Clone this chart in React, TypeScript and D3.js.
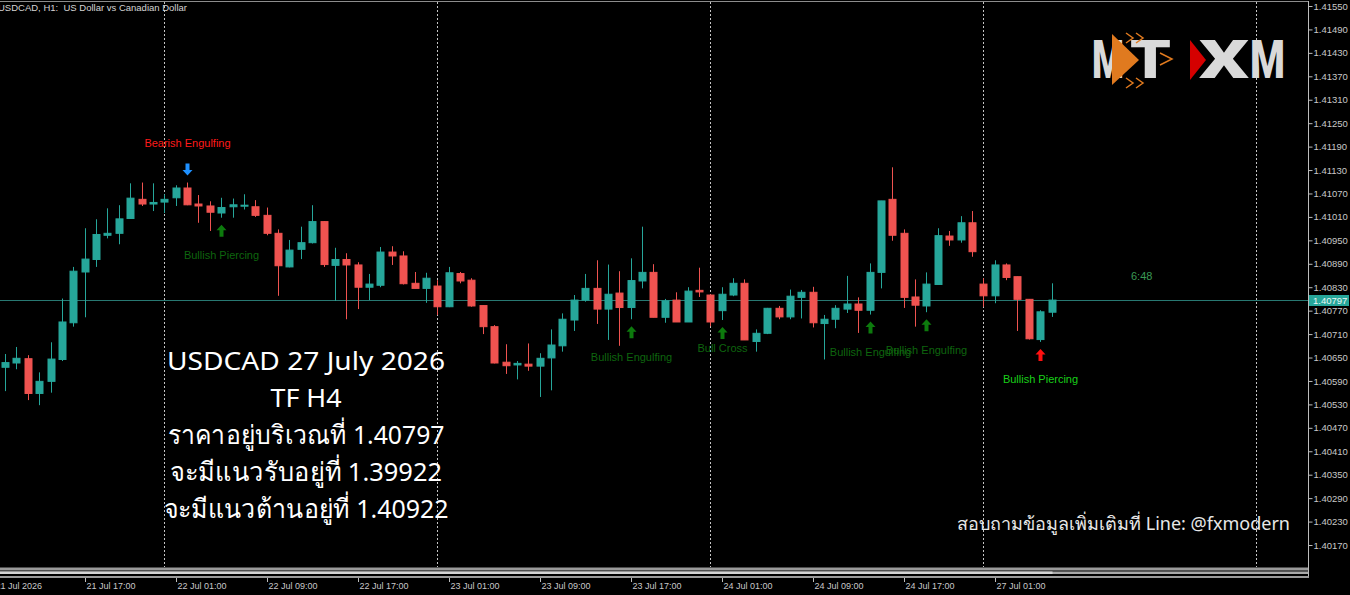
import React, { useEffect, useRef } from "react";
import * as d3 from "d3";

// trading hours shown on the chart: [day, first hour, last hour]
const sessions: [string, number, number][] = [
  ["21 Jul", 9, 23],
  ["22 Jul", 0, 23],
  ["23 Jul", 0, 23],
  ["24 Jul", 0, 23],
  ["27 Jul", 0, 23],
  ["28 Jul", 0, 0],
];

// H1 candles from 21 Jul 10:00 to 27 Jul 06:00
const opens = [
  1.40625, 1.40636, 1.40647, 1.40558, 1.40589, 1.40645, 1.40739, 1.40869, 1.40901, 1.40963,
  1.40968, 1.41006, 1.41055, 1.41043, 1.41048, 1.41059, 1.41084, 1.41043, 1.41038, 1.4102,
  1.41036, 1.41038, 1.41036, 1.41014, 1.40968, 1.40882, 1.40927, 1.40944, 1.40998, 1.40886,
  1.40901, 1.40887, 1.4083, 1.40835, 1.4092, 1.4091, 1.4084, 1.40827, 1.40833, 1.4078,
  1.40865, 1.40848, 1.40783, 1.40729, 1.40638, 1.40631, 1.40633, 1.40628, 1.40649, 1.4068,
  1.40746, 1.40797, 1.40827, 1.40774, 1.40815, 1.40778, 1.40846, 1.40868, 1.40753, 1.40797,
  1.40741, 1.40822, 1.4081, 1.4077, 1.4081, 1.4084, 1.40691, 1.40712, 1.40776, 1.40754,
  1.40804, 1.40817, 1.40737, 1.40748, 1.40774, 1.40787, 1.40771, 1.40868, 1.41055, 1.40968,
  1.40805, 1.40782, 1.40837, 1.40961, 1.40951, 1.40995, 1.40838, 1.40808, 1.40887, 1.40857,
  1.40799, 1.40696, 1.40766,
];
const highs = [
  1.40659, 1.40677, 1.40656, 1.40612, 1.40689, 1.40801, 1.40882, 1.40981, 1.41004, 1.41032,
  1.4104, 1.41096, 1.41098, 1.41096, 1.41068, 1.41091, 1.41098, 1.41066, 1.4105, 1.41059,
  1.41057, 1.41068, 1.41053, 1.41034, 1.40978, 1.40951, 1.40985, 1.4104, 1.40999, 1.40931,
  1.40917, 1.40894, 1.40864, 1.40933, 1.40935, 1.40922, 1.40869, 1.40867, 1.40848, 1.40882,
  1.40869, 1.40853, 1.40783, 1.40733, 1.40684, 1.40641, 1.40686, 1.40661, 1.40722, 1.40763,
  1.4081, 1.40864, 1.40899, 1.40888, 1.40871, 1.40904, 1.40985, 1.40889, 1.408, 1.40817,
  1.4083, 1.4088, 1.40812, 1.4083, 1.40853, 1.4085, 1.40722, 1.40777, 1.40782, 1.40824,
  1.40823, 1.40831, 1.40759, 1.40784, 1.40859, 1.40804, 1.40891, 1.41051, 1.41137, 1.40978,
  1.4085, 1.40868, 1.40981, 1.40974, 1.41012, 1.41025, 1.40853, 1.40899, 1.40891, 1.40857,
  1.40799, 1.40771, 1.4084,
];
const lows = [
  1.40564, 1.4062, 1.40541, 1.40528, 1.4056, 1.40641, 1.40729, 1.40753, 1.40882, 1.40955,
  1.4094, 1.41005, 1.41038, 1.41025, 1.4102, 1.41038, 1.4104, 1.40995, 1.40974, 1.41008,
  1.41008, 1.41029, 1.4101, 1.40963, 1.40808, 1.40881, 1.40902, 1.40942, 1.40882, 1.40795,
  1.40748, 1.40774, 1.40797, 1.4083, 1.40887, 1.40837, 1.40827, 1.4079, 1.40759, 1.40779,
  1.4084, 1.4078, 1.4071, 1.40635, 1.40608, 1.40594, 1.40616, 1.40549, 1.40566, 1.40665,
  1.40718, 1.40793, 1.40736, 1.40695, 1.4068, 1.40748, 1.40827, 1.40753, 1.40739, 1.40741,
  1.40741, 1.40805, 1.4073, 1.40746, 1.40807, 1.40695, 1.40665, 1.4071, 1.40748, 1.40748,
  1.4075, 1.40727, 1.40645, 1.40725, 1.40764, 1.40713, 1.4076, 1.40827, 1.40949, 1.40777,
  1.40729, 1.40766, 1.40837, 1.40936, 1.40944, 1.40908, 1.4078, 1.40789, 1.40848, 1.40718,
  1.40696, 1.4069, 1.40754,
];
const closes = [
  1.40637, 1.40648, 1.40558, 1.40589, 1.40646, 1.40741, 1.40871, 1.40902, 1.40965, 1.40968,
  1.41005, 1.41058, 1.41043, 1.41047, 1.41055, 1.41084, 1.41041, 1.41038, 1.41022, 1.41034,
  1.41041, 1.4104, 1.41014, 1.40968, 1.40885, 1.40925, 1.40944, 1.40998, 1.40888, 1.40901,
  1.40887, 1.4083, 1.40838, 1.4092, 1.4091, 1.40839, 1.40827, 1.40853, 1.4078, 1.40867,
  1.40846, 1.40782, 1.40729, 1.40636, 1.40629, 1.40635, 1.40628, 1.40648, 1.40682, 1.40748,
  1.40797, 1.40827, 1.40774, 1.40812, 1.40778, 1.40847, 1.40868, 1.40753, 1.40795, 1.40741,
  1.4082, 1.40818, 1.40741, 1.40812, 1.4084, 1.40695, 1.40712, 1.40776, 1.40754, 1.40807,
  1.40817, 1.40739, 1.40748, 1.40776, 1.40787, 1.40771, 1.40868, 1.41051, 1.40963, 1.40804,
  1.40784, 1.40838, 1.40962, 1.40951, 1.40995, 1.40921, 1.40808, 1.40887, 1.40855, 1.40799,
  1.40698, 1.40767, 1.40797,
];

const priceTicks = [
  1.4155, 1.4149, 1.4143, 1.4137, 1.4131, 1.4125, 1.4119, 1.4113, 1.4107, 1.4101, 1.4095, 1.4089,
  1.4083, 1.4077, 1.4071, 1.4065, 1.4059, 1.4053, 1.4047, 1.4041, 1.4035, 1.4029, 1.4023, 1.4017,
];
const timeTickAt = [
  "21 Jul 09:00", "21 Jul 17:00", "22 Jul 01:00", "22 Jul 09:00", "22 Jul 17:00", "23 Jul 01:00",
  "23 Jul 09:00", "23 Jul 17:00", "24 Jul 01:00", "24 Jul 09:00", "24 Jul 17:00", "27 Jul 01:00",
];
const timeTickLabels = [
  "21 Jul 2026", "21 Jul 17:00", "22 Jul 01:00", "22 Jul 09:00", "22 Jul 17:00", "23 Jul 01:00",
  "23 Jul 09:00", "23 Jul 17:00", "24 Jul 01:00", "24 Jul 09:00", "24 Jul 17:00", "27 Jul 01:00",
];

// pattern signals
const signalTimes = ["22 Jul 02:00", "22 Jul 05:00", "23 Jul 17:00", "24 Jul 01:00", "24 Jul 14:00", "24 Jul 19:00", "27 Jul 05:00"];
const signalLabels = ["Bearish Engulfing", "Bullish Piercing", "Bullish Engulfing", "Bull Cross", "Bullish Engulfing", "Bullish Engulfing", "Bullish Piercing"];
const signalKinds = ["sell", "buy", "buy", "buy", "buy", "buy", "alert"];
const signalLabelPrices = [1.41199, 1.40912, 1.40651, 1.40674, 1.40664, 1.40669, 1.40595];

const infoLines = [
  "USDCAD 27 July 2026",
  "TF H4",
  "ราคาอยู่บริเวณที่ 1.40797",
  "จะมีแนวรับอยู่ที่ 1.39922",
  "จะมีแนวต้านอยู่ที่ 1.40922",
];
const footer = "สอบถามข้อมูลเพิ่มเติมที่ Line: @fxmodern";
const title = "USDCAD, H1:  US Dollar vs Canadian Dollar";
const countdown = "6:48";

const UP = "#26a69a";
const DOWN = "#ef5350";
const AXIS_FONT = "'Liberation Sans', Arial, sans-serif";
const BIG_FONT = "'Noto Sans', 'DejaVu Sans', sans-serif";

export default function App() {
  const ref = useRef<SVGSVGElement>(null);

  useEffect(() => {
    const W = 1350;
    const H = 595;
    const plotRight = 1308;
    const plotBottom = 567;
    const step = 11.375;

    const svg = d3.select(ref.current);
    svg.selectAll("*").remove();
    svg.attr("width", W).attr("height", H);
    svg.append("rect").attr("width", W).attr("height", H).attr("fill", "#000");

    const slots = sessions.flatMap(([day, from, to]) =>
      d3.range(from, to + 1).map((h) => `${day} ${String(h).padStart(2, "0")}:00`)
    );
    const slotIndex = new Map(slots.map((s, i) => [s, i]));
    const candles = opens.map((o, i) => ({
      t: slots[i + 1],
      o,
      h: highs[i],
      l: lows[i],
      c: closes[i],
    }));

    const x = d3.scaleLinear().domain([0, 1]).range([-6.375, -6.375 + step]);
    const y = d3.scaleLinear().domain([1.4017, 1.4155]).range([545, 6]);
    const px = (t: string) => Math.round(x(slotIndex.get(t)!)) + 0.5;

    // day separators
    svg
      .append("g")
      .selectAll("line")
      .data(slots.filter((s) => s.endsWith(" 00:00")))
      .enter()
      .append("line")
      .attr("x1", px)
      .attr("x2", px)
      .attr("y1", 2)
      .attr("y2", plotBottom)
      .attr("stroke", "#c4c4c4")
      .attr("stroke-dasharray", "2,2");

    // bid line
    const last = candles[candles.length - 1];
    const py = Math.round(y(last.c)) + 0.5;
    svg
      .append("line")
      .attr("x1", 0)
      .attr("x2", plotRight)
      .attr("y1", py)
      .attr("y2", py)
      .attr("stroke", "#287872");

    // candles
    const cg = svg.append("g").selectAll("g").data(candles).enter().append("g");
    cg.append("line")
      .attr("x1", (d) => px(d.t))
      .attr("x2", (d) => px(d.t))
      .attr("y1", (d) => y(d.h))
      .attr("y2", (d) => y(d.l))
      .attr("stroke", (d) => (d.c >= d.o ? UP : DOWN));
    cg.append("rect")
      .attr("x", (d) => px(d.t) - 3.5)
      .attr("width", 7)
      .attr("y", (d) => y(Math.max(d.o, d.c)))
      .attr("height", (d) => Math.max(1, Math.abs(y(d.o) - y(d.c))))
      .attr("fill", (d) => (d.c >= d.o ? UP : DOWN))
      .attr("stroke", (d) => (d.c >= d.o ? UP : DOWN));

    // signals
    const arrowUp = "M0,0 L5,5.5 L2,5.5 L2,12 L-2,12 L-2,5.5 L-5,5.5 Z";
    const signals = signalTimes.map((t, i) => ({
      t,
      label: signalLabels[i],
      kind: signalKinds[i],
      price: signalLabelPrices[i],
      candle: candles.find((c) => c.t === t)!,
    }));
    const sg = svg.append("g").selectAll("g").data(signals).enter().append("g");
    sg.append("path")
      .attr("d", arrowUp)
      .attr("transform", (d) =>
        d.kind === "sell"
          ? `translate(${px(d.t)},${y(d.candle.h) - 7}) scale(1,-1)`
          : `translate(${px(d.t)},${y(d.candle.l) + 7})`
      )
      .attr("fill", (d) => (d.kind === "sell" ? "#1e90ff" : d.kind === "alert" ? "#ff1010" : "#0d7a0d"));
    sg.append("text")
      .attr("x", (d) => px(d.t))
      .attr("y", (d) => y(d.price))
      .attr("dy", "0.35em")
      .attr("text-anchor", "middle")
      .attr("font-family", AXIS_FONT)
      .attr("font-size", 11)
      .attr("fill", (d) => (d.kind === "sell" ? "#ff1a1a" : d.kind === "alert" ? "#19d019" : "#0e650e"))
      .text((d) => d.label);

    // frame
    svg
      .append("line")
      .attr("x1", 0)
      .attr("x2", plotRight)
      .attr("y1", 1.5)
      .attr("y2", 1.5)
      .attr("stroke", "#8c8c8c");
    svg
      .append("line")
      .attr("x1", plotRight + 0.5)
      .attr("x2", plotRight + 0.5)
      .attr("y1", 1)
      .attr("y2", 578)
      .attr("stroke", "#bdbdbd");

    // price axis
    const ya = svg
      .append("g")
      .attr("transform", `translate(${plotRight + 0.5},0)`)
      .call(
        d3
          .axisRight(y)
          .tickValues(priceTicks)
          .tickSize(4)
          .tickPadding(1)
          .tickFormat(d3.format(".5f") as any)
      );
    ya.select(".domain").remove();
    ya.selectAll("line").attr("stroke", "#bdbdbd");
    ya.selectAll("text")
      .attr("fill", "#c8c8c8")
      .attr("font-family", AXIS_FONT)
      .attr("font-size", 9.5);

    // current price tag
    svg
      .append("rect")
      .attr("x", plotRight + 1)
      .attr("y", py - 5.5)
      .attr("width", 40)
      .attr("height", 11)
      .attr("fill", UP);
    svg
      .append("text")
      .attr("x", plotRight + 5)
      .attr("y", py)
      .attr("dy", "0.35em")
      .attr("font-family", AXIS_FONT)
      .attr("font-size", 9.5)
      .attr("fill", "#eef8f6")
      .text(d3.format(".5f")(last.c));

    // scroller strip
    svg.append("rect").attr("x", 0).attr("y", 567.5).attr("width", plotRight).attr("height", 3).attr("fill", "#9a9a9a");
    svg.append("rect").attr("x", 0).attr("y", 571.5).attr("width", plotRight).attr("height", 2.5).attr("fill", "#a8a8a8");
    svg.append("rect").attr("x", 0).attr("y", 571.5).attr("width", px(last.t)).attr("height", 2.5).attr("fill", "#d4d4d4");
    svg.append("rect").attr("x", 0).attr("y", 576).attr("width", plotRight + 1).attr("height", 2).attr("fill", "#9a9a9a");

    // time axis
    const tg = svg
      .append("g")
      .selectAll("g")
      .data(timeTickAt.map((t, i) => ({ t, label: timeTickLabels[i] })))
      .enter()
      .append("g");
    tg.append("line")
      .attr("x1", (d) => px(d.t))
      .attr("x2", (d) => px(d.t))
      .attr("y1", 578)
      .attr("y2", 582)
      .attr("stroke", "#bdbdbd");
    tg.append("text")
      .attr("x", (d) => px(d.t) + 1)
      .attr("y", 589)
      .attr("font-family", AXIS_FONT)
      .attr("font-size", 9)
      .attr("fill", "#c8c8c8")
      .text((d) => d.label);

    // chart title
    svg
      .append("text")
      .attr("x", -2)
      .attr("y", 11)
      .attr("font-family", AXIS_FONT)
      .attr("font-size", 9.5)
      .attr("fill", "#d4d4d4")
      .style("white-space", "pre")
      .text(title);

    // countdown to bar close
    svg
      .append("text")
      .attr("x", 1131)
      .attr("y", 276)
      .attr("dy", "0.35em")
      .attr("font-family", AXIS_FONT)
      .attr("font-size", 11)
      .attr("fill", "#3a9a55")
      .text(countdown);

    // analysis text
    const lineWidths = [278, 71, 277, 272, 285];
    svg
      .append("g")
      .selectAll("text")
      .data(infoLines)
      .enter()
      .append("text")
      .attr("x", 306)
      .attr("y", (_, i) => 370 + i * 37)
      .attr("text-anchor", "middle")
      .attr("font-family", BIG_FONT)
      .attr("font-size", 26)
      .attr("fill", "#ffffff")
      .attr("textLength", (_, i) => lineWidths[i])
      .attr("lengthAdjust", "spacingAndGlyphs")
      .text((d) => d);

    svg
      .append("text")
      .attr("x", 1290)
      .attr("y", 530)
      .attr("text-anchor", "end")
      .attr("font-family", BIG_FONT)
      .attr("font-size", 18)
      .attr("fill", "#e8e8e8")
      .text(footer);

    // MT | XM logo
    const logo = svg.append("g");
    const letter = (t: string, lx: number, len: number) =>
      logo
        .append("text")
        .attr("x", lx)
        .attr("y", 78)
        .attr("font-family", "Roboto, 'DejaVu Sans', sans-serif")
        .attr("font-weight", 900)
        .attr("font-size", 53)
        .attr("fill", "#d9d9d9")
        .attr("textLength", len)
        .attr("lengthAdjust", "spacingAndGlyphs")
        .text(t);
    letter("M", 1092, 32);
    const orange = "#e07a1f";
    logo
      .append("path")
      .attr("d", "M1112,34 L1139,60 L1112,85 Z")
      .attr("fill", orange);
    letter("T", 1130, 41);
    [
      "M1126,33 L1133,38 L1126,43",
      "M1136,33 L1143,38 L1136,43",
      "M1160,53 L1172,59 L1160,65",
      "M1126,78 L1133,83 L1126,88",
      "M1136,78 L1143,83 L1136,88",
    ].forEach((d) =>
      logo.append("path").attr("d", d).attr("fill", "none").attr("stroke", orange).attr("stroke-width", 1.5)
    );
    logo.append("path").attr("d", "M1190,40 L1206,60 L1190,80 Z").attr("fill", "#d50000");
    letter("X", 1199, 50);
    letter("M", 1250, 35);
  }, []);

  return <svg ref={ref} style={{ position: "absolute", left: 0, top: 0, display: "block" }}></svg>;
}
